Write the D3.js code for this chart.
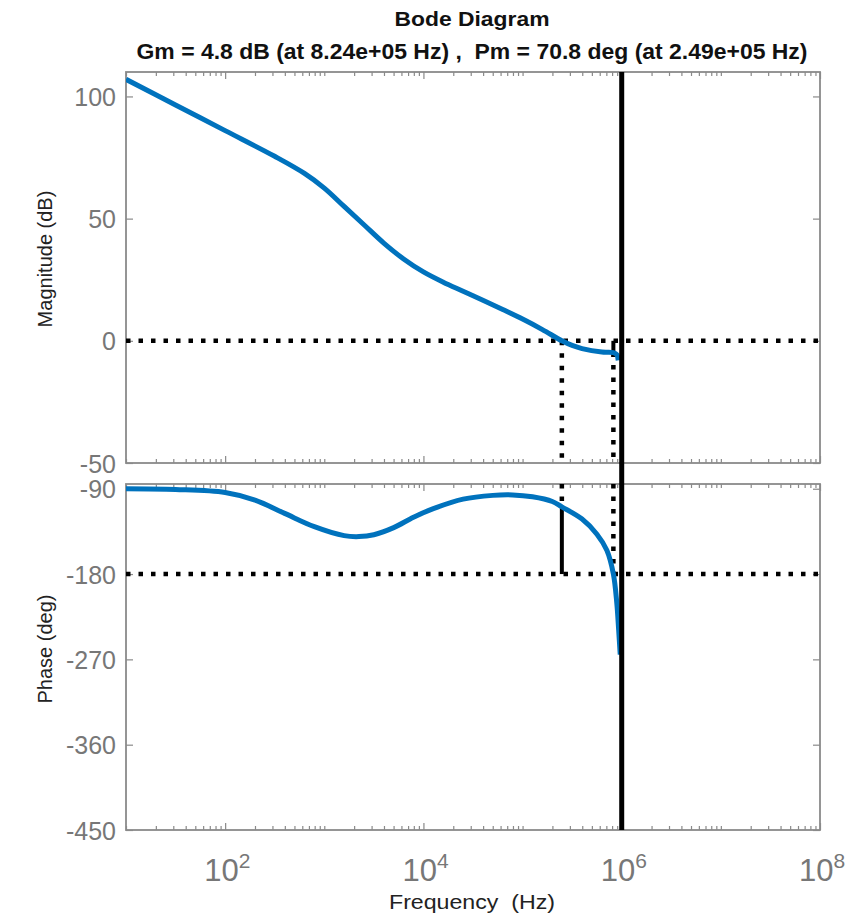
<!DOCTYPE html>
<html>
<head>
<meta charset="utf-8">
<script src="https://cdn.jsdelivr.net/npm/d3@7/dist/d3.min.js"></script>
<style>
  body { margin: 0; background: #ffffff; }
  svg { display: block; font-family: "Liberation Sans", Arial, sans-serif; }
  .pre { white-space: pre; }
</style>
</head>
<body>
<svg id="chart" width="854" height="920"></svg>
<script>

// magnitude response (Hz, dB)
var magFreq = [ 10, 31.6, 100, 316, 631, 1000, 1585, 2512, 3981, 6310, 1e4, 15850, 25120, 39810, 63100,
                1e5, 158500, 2.49e5, 316200, 398100, 631000, 8.24e5, 891000, 922000 ];
var magDb = [ 107, 96.5, 86, 75.5, 68.5, 62.5, 55, 47.5, 40, 33.5, 28.2, 24, 20.3, 16.6, 12.8,
              8.9, 4.6, 0, -1.9, -3.2, -4.6, -4.8, -5.6, -8 ];

// phase response (Hz, deg)
var phaseFreq = [ 10, 31.6, 100, 200, 398, 794, 1585, 2239, 3162, 5012, 7943, 12590, 25120, 50120,
                  79430, 125900, 199500, 2.49e5, 398100, 562300, 707900, 8.24e5, 891000, 933000, 966000 ];
var phaseDeg = [ -90, -90.8, -94, -102, -116, -130, -139.5, -140.5, -138.5, -131, -120, -111, -101, -97,
                 -96.5, -98.5, -103.5, -109.2, -122, -138, -155, -180, -210, -240, -265 ];

var magTicks = [ 100, 50, 0, -50 ];
var phaseTicks = [ -90, -180, -270, -360, -450 ];
var freqExponents = [ 2, 4, 6, 8 ];

var gmFreq = 8.24e5, gmDb = 4.8;
var pmFreq = 2.49e5, pmDeg = 70.8;
var markerFreq = 1e6;

var titleText = 'Bode Diagram';
var subtitleText = 'Gm = 4.8 dB (at 8.24e+05 Hz) ,  Pm = 70.8 deg (at 2.49e+05 Hz)';

var left = 126, right = 820;
var magTop = 72, magBottom = 463;
var phTop = 484, phBottom = 830;

var axisGray = '#8a8a8a';
var tickGray = '#777777';
var blue = '#0072BD';

var svg = d3.select('#chart');

var x = d3.scaleLog().domain([ 10, 1e8 ]).range([ left, right ]);
var yMag = d3.scaleLinear().domain([ -50, 110 ]).range([ magBottom, magTop ]);
var yPh = d3.scaleLinear().domain([ -450, -85 ]).range([ phBottom, phTop ]);

var majorFreq = freqExponents.map( function ( e ) { return Math.pow( 10, e ); } );
var minorFreq = [];
for ( var e = 1; e < 8; e++ ) {
    for ( var k = 1; k <= 9; k++ ) {
        var f = k * Math.pow( 10, e );
        if ( majorFreq.indexOf( f ) === -1 ) minorFreq.push( f );
    }
}

function drawFrame ( y, top, bottom, ticks, showX ) {

    var g = svg.append('g');

    var styleAxis = function ( sel ) {
        sel.select('.domain').remove();
        sel.selectAll('line').attr('stroke', axisGray).attr('stroke-width', 1.2);
    };

    g.append('g')
        .attr('transform', 'translate(' + left + ',0)')
        .call( d3.axisLeft( y ).tickValues( ticks ).tickSizeInner( -7 ).tickSizeOuter( 0 ).tickPadding( 10 )
            .tickFormat( function ( d ) { return String( d ); } ) )
        .call( styleAxis )
        .selectAll('text')
        .attr('font-size', 25)
        .attr('fill', tickGray)
        .attr('dy', '0.36em');

    g.append('g')
        .attr('transform', 'translate(' + right + ',0)')
        .call( d3.axisRight( y ).tickValues( ticks ).tickSizeInner( -7 ).tickSizeOuter( 0 ).tickFormat('') )
        .call( styleAxis );

    [ [ top, d3.axisTop ], [ bottom, d3.axisBottom ] ].forEach( function ( p ) {
        g.append('g')
            .attr('transform', 'translate(0,' + p[0] + ')')
            .call( p[1]( x ).tickValues( majorFreq ).tickSizeInner( -7 ).tickSizeOuter( 0 ).tickFormat('') )
            .call( styleAxis );
        g.append('g')
            .attr('transform', 'translate(0,' + p[0] + ')')
            .call( p[1]( x ).tickValues( minorFreq ).tickSizeInner( -4 ).tickSizeOuter( 0 ).tickFormat('') )
            .call( styleAxis );
    });

    g.append('rect')
        .attr('x', left)
        .attr('y', top)
        .attr('width', right - left)
        .attr('height', bottom - top)
        .attr('fill', 'none')
        .attr('stroke', axisGray)
        .attr('stroke-width', 1.8);

    if ( showX ) {
        var lab = g.selectAll('.xlab')
            .data( freqExponents )
            .enter().append('text')
            .attr('class', 'xlab')
            .attr('x', function ( d ) { return x( Math.pow( 10, d ) ) - 21; })
            .attr('y', 881)
            .attr('fill', tickGray);
        lab.append('tspan').attr('font-size', 31).text('10');
        lab.append('tspan').attr('font-size', 21).attr('dy', -13).text( function ( d ) { return d; } );
    }
}

drawFrame( yMag, magTop, magBottom, magTicks, false );
drawFrame( yPh, phTop, phBottom, phaseTicks, true );

// clip paths
var defs = svg.append('defs');
defs.append('clipPath').attr('id', 'clipMag').append('rect')
    .attr('x', left).attr('y', magTop).attr('width', right - left).attr('height', magBottom - magTop);
defs.append('clipPath').attr('id', 'clipPh').append('rect')
    .attr('x', left).attr('y', phTop).attr('width', right - left).attr('height', phBottom - phTop);

function dotted ( g, x1, y1, x2, y2 ) {
    g.append('line')
        .attr('x1', x1).attr('y1', y1).attr('x2', x2).attr('y2', y2)
        .attr('stroke', '#000')
        .attr('stroke-width', 4.5)
        .attr('stroke-dasharray', '4.5,8');
}

function solid ( g, x1, y1, x2, y2, w ) {
    g.append('line')
        .attr('x1', x1).attr('y1', y1).attr('x2', x2).attr('y2', y2)
        .attr('stroke', '#000')
        .attr('stroke-width', w);
}

// margin markers, magnitude
var gm = svg.append('g');
dotted( gm, left, yMag( 0 ), right, yMag( 0 ) );
dotted( gm, x( pmFreq ), yMag( 0 ), x( pmFreq ), magBottom );
dotted( gm, x( gmFreq ), yMag( -gmDb ), x( gmFreq ), magBottom );
solid( gm, x( gmFreq ), yMag( 0 ), x( gmFreq ), yMag( -gmDb ), 4 );

// margin markers, phase
var pm = svg.append('g');
dotted( pm, left, yPh( -180 ), right, yPh( -180 ) );
dotted( pm, x( pmFreq ), phTop, x( pmFreq ), yPh( -180 + pmDeg ) );
dotted( pm, x( gmFreq ), phTop, x( gmFreq ), yPh( -180 ) );
solid( pm, x( pmFreq ), yPh( -180 + pmDeg ), x( pmFreq ), yPh( -180 ), 4 );

// curves
var magLine = d3.line()
    .x( function ( d, i ) { return x( magFreq[i] ); })
    .y( function ( d ) { return yMag( d ); })
    .curve( d3.curveCatmullRom.alpha( 0.5 ) );

var phLine = d3.line()
    .x( function ( d, i ) { return x( phaseFreq[i] ); })
    .y( function ( d ) { return yPh( d ); })
    .curve( d3.curveCatmullRom.alpha( 0.5 ) );

svg.append('path')
    .attr('d', magLine( magDb ))
    .attr('clip-path', 'url(#clipMag)')
    .attr('fill', 'none')
    .attr('stroke', blue)
    .attr('stroke-width', 5)
    .attr('stroke-linejoin', 'round');

svg.append('path')
    .attr('d', phLine( phaseDeg ))
    .attr('clip-path', 'url(#clipPh)')
    .attr('fill', 'none')
    .attr('stroke', blue)
    .attr('stroke-width', 5)
    .attr('stroke-linejoin', 'round');

// vertical line at 1e6 through both panels
solid( svg, x( markerFreq ), magTop, x( markerFreq ), phBottom, 5 );

// titles
svg.append('text')
    .attr('x', 472).attr('y', 26)
    .attr('text-anchor', 'middle')
    .attr('font-size', 21).attr('font-weight', 'bold')
    .attr('fill', '#111')
    .attr('textLength', 155).attr('lengthAdjust', 'spacingAndGlyphs')
    .text( titleText );

svg.append('text')
    .attr('class', 'pre')
    .attr('x', 472).attr('y', 59)
    .attr('text-anchor', 'middle')
    .attr('font-size', 22).attr('font-weight', 'bold')
    .attr('fill', '#111')
    .attr('textLength', 671).attr('lengthAdjust', 'spacingAndGlyphs')
    .text( subtitleText );

svg.append('text')
    .attr('class', 'pre')
    .attr('x', 472).attr('y', 909)
    .attr('text-anchor', 'middle')
    .attr('font-size', 20)
    .attr('fill', '#222')
    .attr('textLength', 166).attr('lengthAdjust', 'spacingAndGlyphs')
    .text('Frequency  (Hz)');

svg.append('text')
    .attr('transform', 'translate(52,259) rotate(-90)')
    .attr('text-anchor', 'middle')
    .attr('font-size', 20)
    .attr('fill', '#222')
    .text('Magnitude (dB)');

svg.append('text')
    .attr('transform', 'translate(52,649) rotate(-90)')
    .attr('text-anchor', 'middle')
    .attr('font-size', 20)
    .attr('fill', '#222')
    .text('Phase (deg)');

</script>
</body>
</html>
